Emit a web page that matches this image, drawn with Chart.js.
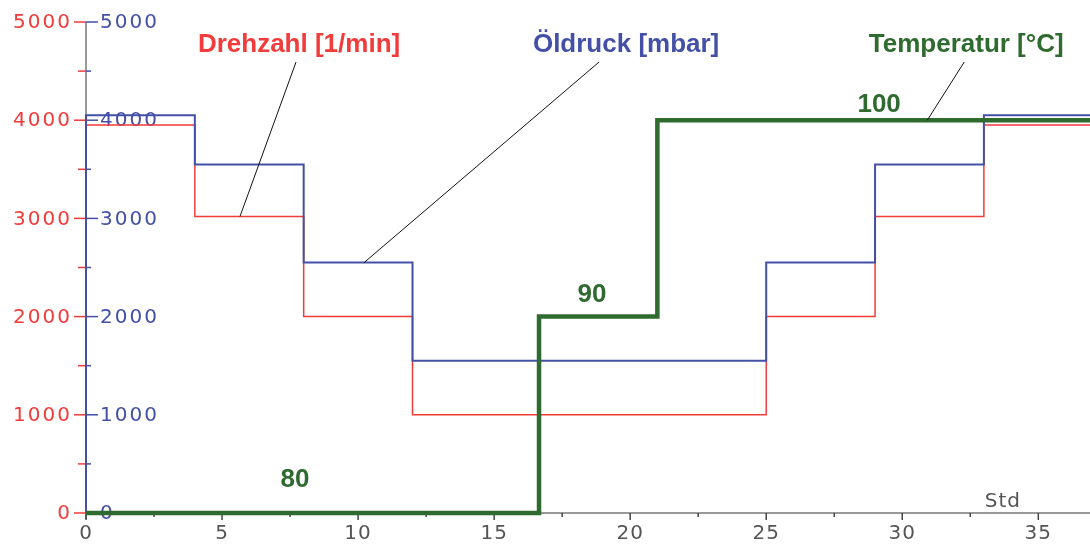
<!DOCTYPE html>
<html>
<head>
<meta charset="utf-8">
<script src="https://cdn.jsdelivr.net/npm/chart.js@4.4.0/dist/chart.umd.min.js"></script>
<style>
  html, body { margin: 0; padding: 0; background: #fff; }
  #wrap { width: 1090px; height: 546px; }
</style>
</head>
<body>
<div id="wrap"><canvas id="chart"></canvas></div>
<script>
// time axis (hours) and step values
const stepTimes   = [0, 0, 4, 8, 12, 25, 29, 33, 36.9];
const drehzahl    = [0, 3950, 3020, 2000, 1000, 2000, 3020, 3950, 3950];
const oeldruck    = [0, 4050, 3550, 2550, 1550, 2550, 3550, 4050, 4050];
const tempTimes   = [0, 16.65, 21, 36.9];
const temperatur  = [80, 90, 100, 100];

const yTicks      = [0, 1000, 2000, 3000, 4000, 5000];
const xTicks      = [0, 5, 10, 15, 20, 25, 30, 35];

// series labels: [text, labelX, labelY, lineFromX, lineFromY, lineToX, lineToY]
const seriesLabels = [
    ['Drehzahl [1/min]', 7.83, 4766, 7.72, 4593, 5.66, 3020],
    ['Öldruck [mbar]',  19.85, 4766, 18.86, 4593, 10.22, 2550],
    ['Temperatur [°C]', 32.35, 4766, 32.28, 4593, 30.92, 4000]
];
// temperature value labels: [text, x, y]
const tempLabels = [['80', 7.68, 336], ['90', 18.6, 2220], ['100', 29.15, 4155]];

const RED = '#f23b3b';
const BLUE = '#4350a6';
const GREEN = '#2f6a2f';

function toPoints(xs, ys) {
    return xs.map((x, i) => ({ x: x, y: ys[i] }));
}

// draws both left axes, x axis and annotations
const axesPlugin = {
    id: 'axesPlugin',
    beforeDatasetsDraw(chart) {
        const ctx = chart.ctx;
        const xs = chart.scales.x;
        const ys = chart.scales.y;
        const x0 = xs.getPixelForValue(0);
        const y0 = ys.getPixelForValue(0);
        ctx.save();
        ctx.lineWidth = 1.5;

        // vertical axis line
        ctx.strokeStyle = '#777';
        ctx.beginPath();
        ctx.moveTo(x0, ys.getPixelForValue(5000));
        ctx.lineTo(x0, y0 + 6);
        ctx.stroke();

        // horizontal axis line
        ctx.beginPath();
        ctx.moveTo(x0, y0);
        ctx.lineTo(chart.width, y0);
        ctx.stroke();

        // x ticks and labels
        ctx.strokeStyle = '#444';
        ctx.fillStyle = '#555';
        ctx.font = '20px "DejaVu Sans"';
        ctx.letterSpacing = '1px';
        ctx.textAlign = 'center';
        ctx.textBaseline = 'top';
        for (let v = 0; v <= 37; v += 2.5) {
            const px = xs.getPixelForValue(v);
            const major = v % 5 === 0;
            ctx.beginPath();
            ctx.moveTo(px, y0);
            ctx.lineTo(px, y0 + (major ? 7 : 4));
            ctx.stroke();
        }
        xTicks.forEach(v => {
            ctx.fillText(String(v), xs.getPixelForValue(v), y0 + 11);
        });
        ctx.textBaseline = 'bottom';
        ctx.fillText('Std', xs.getPixelForValue(33.7), y0 - 1);

        // y ticks: red on the left, blue on the right
        for (let v = 0; v <= 5000; v += 500) {
            const py = ys.getPixelForValue(v);
            const major = v % 1000 === 0;
            ctx.strokeStyle = RED;
            ctx.beginPath();
            ctx.moveTo(x0 - (major ? 12 : 8), py);
            ctx.lineTo(x0, py);
            ctx.stroke();
            ctx.strokeStyle = BLUE;
            ctx.beginPath();
            ctx.moveTo(x0, py);
            ctx.lineTo(x0 + (major ? 12 : 5), py);
            ctx.stroke();
        }
        ctx.textBaseline = 'middle';
        ctx.letterSpacing = '2px';
        yTicks.forEach(v => {
            const py = ys.getPixelForValue(v) + 1;
            ctx.fillStyle = RED;
            ctx.textAlign = 'right';
            ctx.fillText(String(v), x0 - 14, py);
            ctx.fillStyle = BLUE;
            ctx.textAlign = 'left';
            ctx.fillText(String(v), x0 + 14, py);
        });
        ctx.restore();
    },
    afterDatasetsDraw(chart) {
        const ctx = chart.ctx;
        const xs = chart.scales.x;
        const ys = chart.scales.y;
        const colors = [RED, BLUE, GREEN];
        ctx.save();
        ctx.letterSpacing = '0px';
        // leader lines
        ctx.strokeStyle = '#111';
        ctx.lineWidth = 1;
        seriesLabels.forEach(l => {
            ctx.beginPath();
            ctx.moveTo(xs.getPixelForValue(l[3]), ys.getPixelForValue(l[4]));
            ctx.lineTo(xs.getPixelForValue(l[5]), ys.getPixelForValue(l[6]));
            ctx.stroke();
        });
        // series names
        ctx.font = 'bold 26px "Liberation Sans", Arial, sans-serif';
        ctx.textAlign = 'center';
        ctx.textBaseline = 'middle';
        seriesLabels.forEach((l, i) => {
            ctx.fillStyle = colors[i];
            ctx.fillText(l[0], xs.getPixelForValue(l[1]), ys.getPixelForValue(l[2]));
        });
        // temperature values
        ctx.font = 'bold 26px "Liberation Sans", Arial, sans-serif';
        ctx.fillStyle = GREEN;
        tempLabels.forEach(t => {
            ctx.fillText(t[0], xs.getPixelForValue(t[1]), ys.getPixelForValue(t[2]));
        });
        ctx.restore();
    }
};

new Chart(document.getElementById('chart'), {
    type: 'line',
    data: {
        datasets: [
            {
                label: 'Drehzahl [1/min]',
                data: toPoints(stepTimes, drehzahl),
                yAxisID: 'y',
                borderColor: RED,
                borderWidth: 1.5,
                stepped: 'before',
                pointRadius: 0,
                order: 2
            },
            {
                label: 'Öldruck [mbar]',
                data: toPoints(stepTimes, oeldruck),
                yAxisID: 'y',
                borderColor: BLUE,
                borderWidth: 2,
                stepped: 'before',
                pointRadius: 0,
                order: 1
            },
            {
                label: 'Temperatur [°C]',
                data: toPoints(tempTimes, temperatur),
                yAxisID: 'yT',
                borderColor: GREEN,
                borderWidth: 4.5,
                stepped: 'before',
                pointRadius: 0,
                order: 0
            }
        ]
    },
    options: {
        responsive: true,
        maintainAspectRatio: false,
        animation: false,
        layout: { padding: { left: 86, right: 0, top: 22, bottom: 33 } },
        plugins: {
            legend: { display: false },
            tooltip: { enabled: false }
        },
        elements: { line: { tension: 0 } },
        datasets: { line: { clip: false } },
        scales: {
            x: { type: 'linear', min: 0, max: 36.9, display: false },
            y: { type: 'linear', min: 0, max: 5000, display: false },
            yT: { type: 'linear', min: 80, max: 105, display: false }
        }
    },
    plugins: [axesPlugin]
});
</script>
</body>
</html>
